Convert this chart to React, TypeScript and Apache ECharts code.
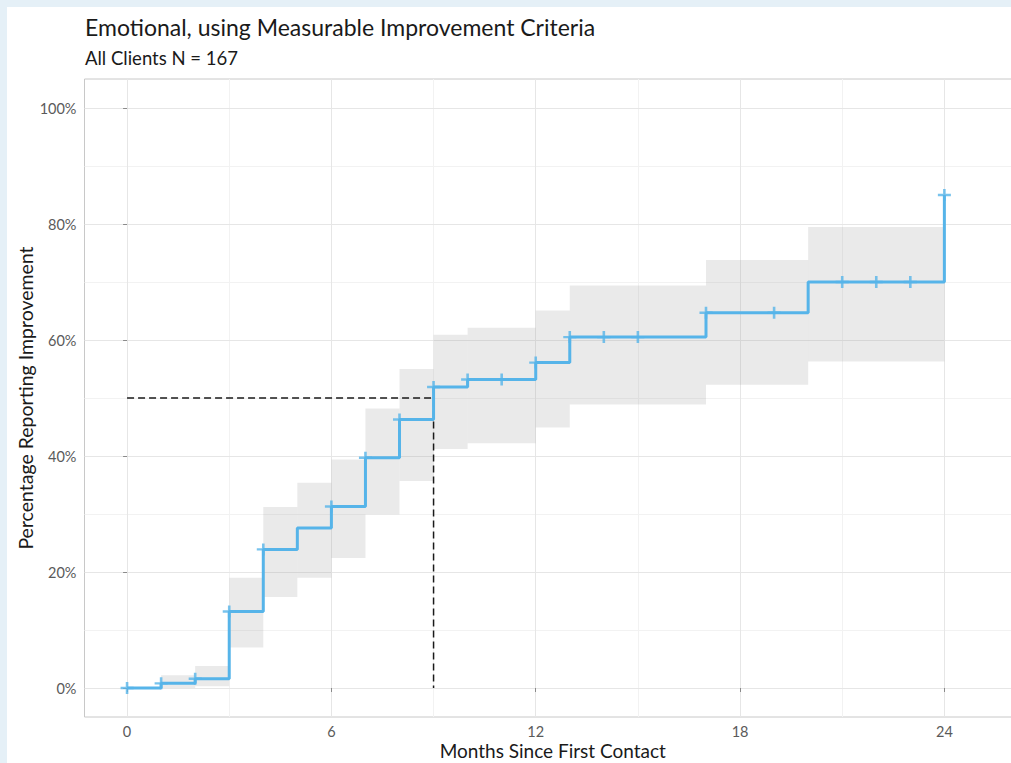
import React, { useEffect, useRef } from "react";
import * as echarts from "echarts";

// Kaplan-Meier style cumulative improvement (step function)
const months = [0, 1, 2, 3, 4, 5, 6, 7, 8, 9, 10, 12, 13, 17, 20, 24];
const cumPct = [0, 0.8, 1.6, 13.2, 23.9, 27.6, 31.3, 39.7, 46.3, 51.9, 53.2, 56.1, 60.5, 64.7, 70.0, 85.0];

// Confidence band per step interval
const bandStart = [1, 2, 3, 4, 5, 6, 7, 8, 9, 10, 12, 13, 17, 20];
const bandEnd = [2, 3, 4, 5, 6, 7, 8, 9, 10, 12, 13, 17, 20, 24];
const bandLower = [0, 0.3, 7.0, 15.7, 19.0, 22.4, 29.9, 35.7, 41.2, 42.2, 44.9, 48.9, 52.3, 56.3];
const bandUpper = [2.2, 3.8, 19.0, 31.2, 35.4, 39.4, 48.2, 55.0, 60.9, 62.1, 65.1, 69.4, 73.8, 79.5];

// Censor marks (+)
const censorMonths = [0, 1, 2, 3, 4, 6, 7, 8, 9, 10, 11, 12, 13, 14, 15, 17, 19, 21, 22, 23, 24];

// Median reference
const medianMonth = 9;
const medianPct = 50;

// Axis ticks
const xMajor = [0, 6, 12, 18, 24];
const xMinor = [3, 9, 15, 21];
const yMajor = [0, 20, 40, 60, 80, 100];
const yMinor = [10, 30, 50, 70, 90];

const BLUE = "#56B4E9";
const FONT = "Lato";

function stepValueAt(t: number): number {
  let v = 0;
  for (let i = 0; i < months.length; i++) {
    if (months[i] <= t) v = cumPct[i];
  }
  return v;
}

export default function App() {
  const ref = useRef<HTMLDivElement>(null);

  useEffect(() => {
    if (!ref.current) return;
    const chart = echarts.init(ref.current, undefined, { renderer: "svg" });

    const bandData = bandStart.map((s, i) => [s, bandEnd[i], bandLower[i], bandUpper[i]]);
    const lineData = months.map((m, i) => [m, cumPct[i]]);
    const censorData = censorMonths.map((m) => [m, stepValueAt(m)]);

    const gridLines = [
      ...xMinor.map((v) => ({ xAxis: v, lineStyle: { color: "#f2f2f2", width: 1, type: "solid" } })),
      ...yMinor.map((v) => ({ yAxis: v, lineStyle: { color: "#f2f2f2", width: 1, type: "solid" } })),
      ...xMajor.map((v) => ({ xAxis: v, lineStyle: { color: "#e6e6e6", width: 1, type: "solid" } })),
      ...yMajor.map((v) => ({ yAxis: v, lineStyle: { color: "#e6e6e6", width: 1, type: "solid" } })),
    ];

    const option: any = {
      animation: false,
      title: [
        {
          text: "Emotional, using Measurable Improvement Criteria",
          left: 85,
          top: 15,
          padding: 0,
          textStyle: { fontFamily: FONT, fontSize: 23, fontWeight: "normal", color: "#1a1a1a" },
        },
        {
          text: "All Clients N = 167",
          left: 85,
          top: 48,
          padding: 0,
          textStyle: { fontFamily: FONT, fontSize: 18.5, fontWeight: "normal", color: "#1a1a1a" },
        },
      ],
      grid: {
        left: 84.5,
        right: 0,
        top: 79,
        bottom: 46,
        show: true,
        borderColor: "#c8c8c8",
        borderWidth: 1,
        backgroundColor: "transparent",
        containLabel: false,
        outerBoundsMode: "none",
      },
      xAxis: {
        type: "value",
        min: -1.25,
        max: 26.25,
        axisLine: { show: false },
        splitLine: { show: false },
        axisTick: { show: true, customValues: xMajor, length: 4, lineStyle: { color: "#8a8a8a" } },
        axisLabel: {
          customValues: xMajor,
          fontFamily: FONT,
          fontSize: 14.5,
          color: "#5a5a5a",
          margin: 7,
        },
        name: "Months Since First Contact",
        nameLocation: "middle",
        nameMoveOverlap: false,
        nameGap: 23,
        nameTextStyle: { fontFamily: FONT, fontSize: 19, color: "#1a1a1a", lineHeight: 20 },
      },
      yAxis: {
        type: "value",
        min: -5,
        max: 105,
        axisLine: { show: false },
        splitLine: { show: false },
        axisTick: { show: true, customValues: yMajor, length: 4, lineStyle: { color: "#8a8a8a" } },
        axisLabel: {
          customValues: yMajor,
          formatter: (v: number) => `${v}%`,
          fontFamily: FONT,
          fontSize: 14.5,
          color: "#5a5a5a",
          margin: 8,
        },
        name: "Percentage Reporting Improvement",
        nameLocation: "middle",
        nameMoveOverlap: false,
        nameGap: 49,
        nameRotate: 90,
        nameTextStyle: { fontFamily: FONT, fontSize: 19.5, color: "#1a1a1a" },
      },
      series: [
        {
          type: "line",
          name: "grid",
          data: [],
          silent: true,
          z: 0,
          markLine: {
            silent: true,
            z: 0,
            symbol: ["none", "none"],
            label: { show: false },
            animation: false,
            data: gridLines,
          },
        },
        {
          type: "custom",
          name: "band",
          z: 1,
          data: bandData,
          renderItem: (params: any, api: any) => {
            const p0 = api.coord([api.value(0), api.value(3)]);
            const p1 = api.coord([api.value(1), api.value(2)]);
            return {
              type: "rect",
              shape: { x: p0[0], y: p0[1], width: p1[0] - p0[0], height: p1[1] - p0[1] },
              style: { fill: "rgba(150,150,150,0.2)" },
            };
          },
        },
        {
          type: "line",
          name: "median",
          z: 2,
          data: [
            [0, medianPct],
            [medianMonth, medianPct],
            [medianMonth, 0],
          ],
          showSymbol: false,
          lineStyle: { color: "#1a1a1a", width: 1.5, type: [7, 4] },
        },
        {
          type: "line",
          name: "cumulative",
          z: 3,
          step: "end",
          data: lineData,
          showSymbol: false,
          lineStyle: { color: BLUE, width: 3 },
        },
        {
          type: "scatter",
          name: "censor",
          z: 4,
          data: censorData,
          symbol: "path://M4.8,0H7.2V4.8H12V7.2H7.2V12H4.8V7.2H0V4.8H4.8Z",
          symbolSize: [13, 12],
          itemStyle: { color: BLUE },
        },
      ],
    };

    chart.setOption(option);
    return () => chart.dispose();
  }, []);

  return (
    <div
      style={{
        position: "fixed",
        left: 0,
        top: 0,
        width: 1011,
        height: 763,
        overflow: "hidden",
        background: "#e5f0f7",
      }}
    >
      <div
        style={{
          position: "absolute",
          left: 7,
          top: 7,
          width: 1100,
          height: 800,
          background: "#ffffff",
        }}
      />
      <div
        ref={ref}
        style={{ position: "absolute", left: 0, top: 0, width: 1021, height: 763 }}
      />
    </div>
  );
}
